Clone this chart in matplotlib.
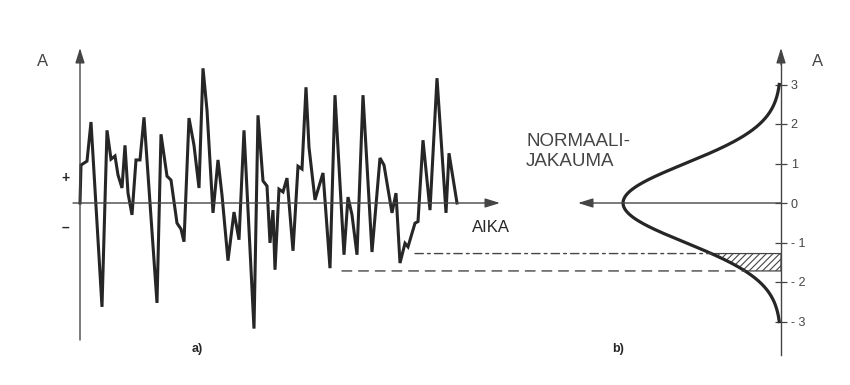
import numpy as np
import matplotlib
matplotlib.use("Agg")
import matplotlib.pyplot as plt
from matplotlib.patches import ConnectionPatch

# a) satunnaissignaali (aika, amplitudi) luettu kuvasta
aika = [0.0, 0.1, 0.7, 1.1, 2.2, 2.7, 3.1, 3.5, 3.8, 4.2, 4.5, 4.8, 5.2,
        5.6, 6.0, 6.4, 7.7, 8.1, 8.7, 9.1, 9.7, 10.1, 10.4, 10.9, 11.4,
        11.9, 12.3, 12.7, 13.3, 13.8, 14.2, 14.8, 15.4, 15.9, 16.4, 17.4,
        17.8, 18.3, 18.7, 19.0, 19.3, 19.5, 19.9, 20.3, 20.7, 21.3, 21.8,
        22.2, 22.6, 22.9, 23.5, 24.3, 25.0, 25.5, 26.4, 26.8, 27.2, 27.7,
        28.3, 29.2, 30.0, 30.4, 31.2, 31.6, 32.0, 32.5, 32.8, 33.5, 33.8,
        34.3, 35.0, 35.7, 36.6, 36.9, 37.7]
amplitudi = [0.0, 0.96, 1.06, 2.05, -2.63, 1.84, 1.11, 1.19, 0.71, 0.38,
             1.46, 0.25, -0.30, 1.09, 1.09, 2.17, -2.53, 1.74, 0.68, 0.58,
             -0.51, -0.66, -0.98, 2.15, 1.46, 0.38, 3.41, 2.35, -0.25, 1.09,
             0.20, -1.46, -0.23, -0.93, 1.84, -3.18, 2.22, 0.56, 0.43, -1.01,
             -0.18, -1.69, 0.35, 0.28, 0.63, -1.21, 0.93, 0.86, 2.93, 1.41,
             0.08, 0.76, -1.65, 2.73, -1.31, 0.15, -0.30, -1.31, 2.73, -1.24,
             1.14, 0.96, -0.25, 0.25, -1.52, -1.02, -1.11, -0.51, -0.47,
             1.59, -0.18, 3.16, -0.25, 1.26, 0.0]

# b) normaalijakauma ja merkitty kaista
A_jakauma = np.linspace(-3.0, 3.0, 241)
tasot = [-1.28, -1.72]          # katkoviivojen tasot
tason_alku = [33.5, 26.2]       # mistä ajanhetkestä viiva lähtee
asteikko = [-3, -2, -1, 0, 1, 2, 3]
asteikko_tekstit = ["- 3", "- 2", "- 1", "0", "1", "2", "3"]


def tiheys(a):
    return np.exp(-np.asarray(a) ** 2 / 2) / np.sqrt(2 * np.pi)


W, H = 850, 385
musta = "#262626"
harmaa = "#454545"
plt.rcParams["font.family"] = ["Liberation Sans", "DejaVu Sans"]
plt.rcParams["hatch.linewidth"] = 0.8

fig = plt.figure(figsize=(W / 100, H / 100), dpi=100)
fig.patch.set_facecolor("white")


def paikka(x0, x1, y0, y1):
    return [x0 / W, 1 - y1 / H, (x1 - x0) / W, (y1 - y0) / H]


ylim = ((203 - 360) / 39.5, (203 - 45) / 39.5)

# vasen kuva
axL = fig.add_axes(paikka(70, 505, 45, 360))
axL.set_xlim(-1.0, 42.5)
axL.set_ylim(*ylim)
axL.axis("off")

nuoli = dict(arrowstyle="-|>,head_length=0.9,head_width=0.28", color=harmaa,
             lw=1.0, shrinkA=0, shrinkB=0, mutation_scale=10)
axL.annotate("", xy=(0, (203 - 48) / 39.5), xytext=(0, (203 - 340) / 39.5),
             arrowprops=nuoli)
axL.annotate("", xy=(42.0, 0), xytext=(-0.7, 0), arrowprops=nuoli)
axL.plot(aika, amplitudi, color=musta, lw=2.2, solid_joinstyle="miter")

fig.text(43 / W, 1 - 62 / H, "A", fontsize=12, color=harmaa,
         ha="center", va="center")
fig.text(65 / W, 1 - 178 / H, "+", fontsize=10, color=musta,
         ha="center", va="center", fontweight="bold")
fig.text(65 / W, 1 - 228 / H, "–", fontsize=10, color=musta,
         ha="center", va="center", fontweight="bold")
fig.text(472 / W, 1 - 227 / H, "AIKA", fontsize=12, color=musta,
         ha="left", va="center")
fig.text(197 / W, 1 - 349 / H, "a)", fontsize=9, color=musta,
         ha="center", va="center", fontweight="bold")

# oikea kuva
axR = fig.add_axes(paikka(570, 800, 45, 360))
axR.set_xlim(211 / 396, -19 / 396)
axR.set_ylim(*ylim)
for s in ["left", "top", "bottom"]:
    axR.spines[s].set_visible(False)
axR.spines["right"].set_position(("data", 0))
axR.spines["right"].set_bounds(-3.85, 3.8)
axR.spines["right"].set_color(harmaa)
axR.spines["right"].set_linewidth(1.0)
axR.yaxis.tick_right()
axR.set_xticks([])
axR.set_yticks(asteikko)
axR.set_yticklabels(asteikko_tekstit)
axR.tick_params(axis="y", direction="inout", length=8, width=0.9,
                colors=harmaa, labelsize=9, pad=3)
axR.patch.set_alpha(0)

axR.annotate("", xy=(0, (203 - 48) / 39.5), xytext=(0, 3.5), arrowprops=nuoli)
axR.annotate("", xy=(203 / 396, 0), xytext=(0, 0), arrowprops=nuoli)

axR.plot(tiheys(A_jakauma), A_jakauma, color=musta, lw=2.3)
kaista = np.linspace(tasot[1], tasot[0], 30)
axR.fill_betweenx(kaista, 0, tiheys(kaista), facecolor="white",
                  edgecolor=harmaa, hatch="/////", linewidth=0.9)

fig.text(818 / W, 1 - 62 / H, "A", fontsize=12, color=harmaa,
         ha="center", va="center")
fig.text(526 / W, 1 - 142 / H, "NORMAALI-", fontsize=13.5, color=harmaa,
         ha="left", va="center")
fig.text(526 / W, 1 - 162 / H, "JAKAUMA", fontsize=13.5, color=harmaa,
         ha="left", va="center")
fig.text(618 / W, 1 - 349 / H, "b)", fontsize=9, color=musta,
         ha="center", va="center", fontweight="bold")

# katkoviivat signaalista jakaumaan
viivat = [(0, (6, 3, 2, 3)), (0, (7, 5))]
for taso, alku, tyyli in zip(tasot, tason_alku, viivat):
    con = ConnectionPatch(xyA=(alku, taso), coordsA=axL.transData,
                          xyB=(tiheys(taso), taso), coordsB=axR.transData,
                          color=harmaa, lw=1.0, linestyle=tyyli)
    fig.add_artist(con)

fig.savefig("out.png", dpi=100, facecolor="white")
